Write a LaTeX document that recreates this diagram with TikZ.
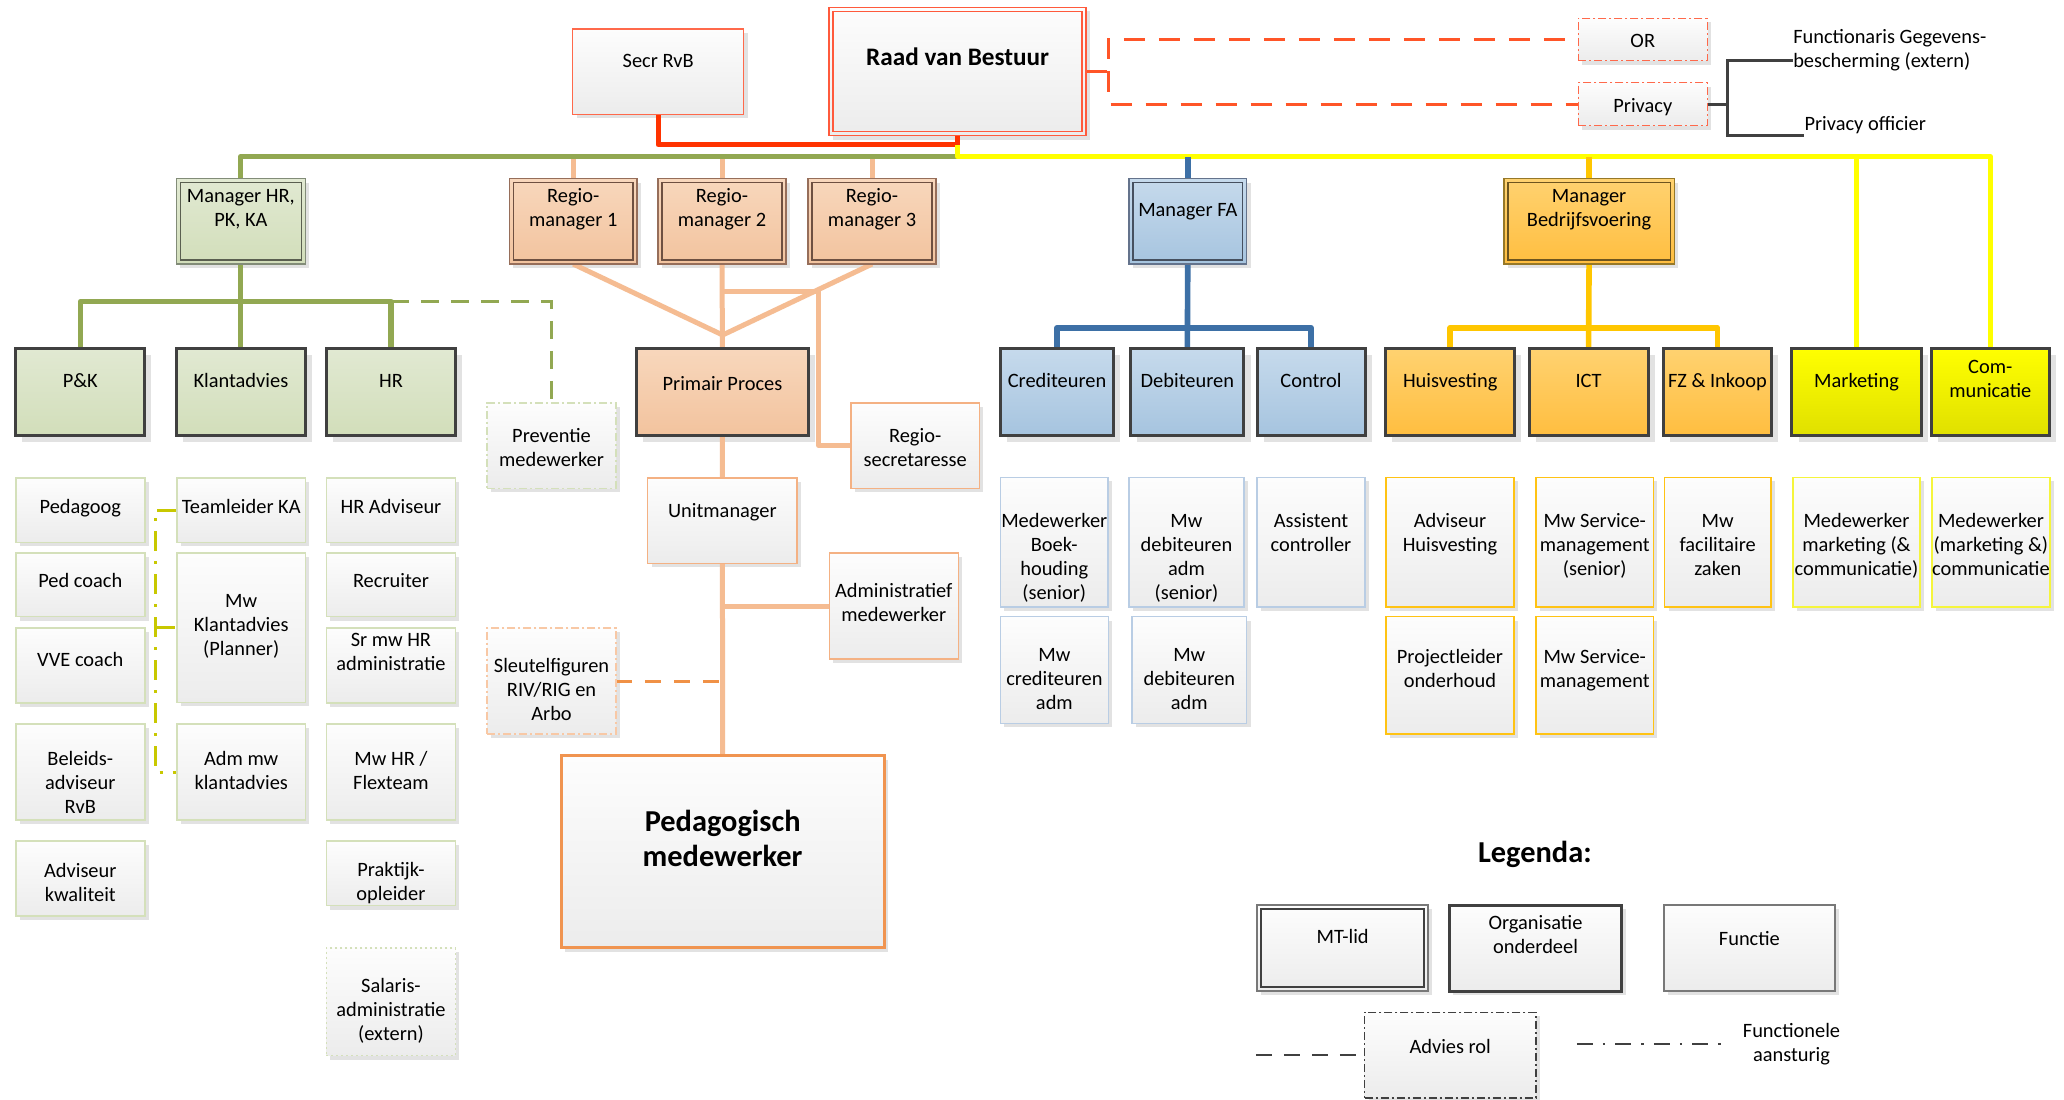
\documentclass[tikz,border=0pt]{standalone}
\usepackage{fontspec}
\setmainfont{Carlito}
\usetikzlibrary{calc}
\pgfdeclarelayer{shadow}
\pgfdeclarelayer{bg}
\pgfsetlayers{shadow,bg,main}

\definecolor{fnT}{RGB}{253,253,253}
\definecolor{fnB}{RGB}{236,236,236}
\definecolor{gT}{RGB}{225,233,210}
\definecolor{gB}{RGB}{210,222,186}
\definecolor{pT}{RGB}{248,215,188}
\definecolor{pB}{RGB}{242,195,158}
\definecolor{bT}{RGB}{198,218,236}
\definecolor{bB}{RGB}{166,196,223}
\definecolor{oT}{RGB}{255,210,112}
\definecolor{oB}{RGB}{255,190,64}
\definecolor{yT}{RGB}{255,255,0}
\definecolor{yB}{RGB}{224,224,0}
\definecolor{ouD}{RGB}{64,64,64}
\definecolor{shc}{RGB}{226,226,226}
\definecolor{fgB}{RGB}{212,224,186}
\definecolor{fbB}{RGB}{185,205,228}
\definecolor{foB}{RGB}{255,195,20}
\definecolor{fyB}{RGB}{245,245,60}
\definecolor{fpB}{RGB}{244,177,131}
\definecolor{frB}{RGB}{255,105,75}
\definecolor{fkB}{RGB}{120,120,120}
\definecolor{mgO}{RGB}{130,140,120}
\definecolor{mgI}{RGB}{90,95,80}
\definecolor{mpO}{RGB}{150,110,90}
\definecolor{mpI}{RGB}{110,80,65}
\definecolor{mbO}{RGB}{100,115,140}
\definecolor{mbI}{RGB}{70,80,95}
\definecolor{moO}{RGB}{150,120,40}
\definecolor{moI}{RGB}{110,85,30}
\definecolor{mrO}{RGB}{255,90,60}
\definecolor{pedB}{RGB}{240,148,80}
\definecolor{slB}{RGB}{248,200,165}
\definecolor{lnG}{RGB}{146,168,82}
\definecolor{lnP}{RGB}{245,188,146}
\definecolor{lnR}{RGB}{255,51,0}
\definecolor{lnY}{RGB}{255,255,0}
\definecolor{lnB}{RGB}{61,112,166}
\definecolor{lnO}{RGB}{255,198,0}
\definecolor{lnK}{RGB}{64,64,64}
\definecolor{lnRD}{RGB}{255,85,40}
\definecolor{lnOD}{RGB}{240,145,70}
\definecolor{lnF}{RGB}{200,200,0}

\newcommand\fsz{\fontsize{10.2}{12}\selectfont}
\newcommand\bfr{\fontsize{12.6}{15}\selectfont\bfseries}
\newcommand\bfz{\fontsize{15.2}{17.8}\selectfont\bfseries}
\newcommand\shd{3}
\newcommand\bx[8]{%
  \begin{pgfonlayer}{shadow}
  \fill[shc] ({#3+\shd},{#4+\shd}) rectangle ({#5+\shd},{#6+\shd});
  \end{pgfonlayer}
  \node[#1, minimum width={(#5-#3)*0.65815pt}, minimum height={(#6-#4)*0.65815pt}] (#2) at ({(#3+#5)/2},{(#4+#6)/2}) {};
  \node[txt] (#2t) at ({(#3+#5)/2},{#8+1.8}) {#7};
}
\newcommand\mbx[9]{%
  \bx{#1}{#3}{#4}{#5}{#6}{#7}{#8}{#9}
  \draw[#2] ({#4+3},{#5+3}) rectangle ({#6-3},{#7-3});
}

\tikzset{
  txt/.style={inner sep=0pt, align=center, font=\fsz, execute at begin node=\strut, execute at end node=\strut},
  txtl/.style={txt, align=left},
  fn/.style={rectangle, inner sep=0pt, outer sep=0pt, draw=#1, line width=0.75pt, top color=fnT, bottom color=fnB},
  adv/.style={fn=#1, dash pattern=on 4pt off 1.5pt on 1pt off 1.5pt},
  salbox/.style={fn=fgB, dash pattern=on 1pt off 1.5pt},
  pedbox/.style={fn=pedB, line width=1.5pt},
  ou/.style 2 args={rectangle, inner sep=0pt, outer sep=0pt, draw=ouD, line width=1.5pt, top color=#1, bottom color=#2},
  mt/.style n args={3}{rectangle, inner sep=0pt, outer sep=0pt, draw=#1, line width=0.8pt, top color=#2, bottom color=#3},
  inr/.style={draw=#1, line width=0.8pt},
  grn/.style={draw=lnG, line width=2.6pt, line join=round},
  pch/.style={draw=lnP, line width=2.5pt, line join=round},
  redl/.style={draw=lnR, line width=2.5pt, line join=round},
  ylw/.style={draw=lnY, line width=2.6pt, line join=round},
  blu/.style={draw=lnB, line width=2.8pt, line join=round},
  orl/.style={draw=lnO, line width=2.8pt, line join=round},
  gry/.style={draw=lnK, line width=1.6pt},
  gdash/.style={draw=lnG, line width=1.6pt, dash pattern=on 9pt off 6pt},
  rdash/.style={draw=lnRD, line width=1.5pt, dash pattern=on 10.5pt off 7pt},
  odash/.style={draw=lnOD, line width=1.5pt, dash pattern=on 8pt off 6.5pt},
  funcl/.style={draw=lnF, line width=1.5pt, dash pattern=on 10pt off 5pt on 1.5pt off 5pt},
  legdash/.style={draw=lnK, line width=1.3pt, dash pattern=on 8pt off 6pt},
  legfunc/.style={draw=lnK, line width=1.3pt, dash pattern=on 8pt off 5pt on 1.2pt off 5pt},
}

\begin{document}
\begin{tikzpicture}[x=0.65815pt,y=-0.65815pt]
\useasboundingbox (0,0) rectangle (1568,835);
\begin{pgfonlayer}{shadow}
\fill[white] (0,0) rectangle (1568,835);
\end{pgfonlayer}

% ---------- top ----------
\renewcommand\shd{3}
\bx{fn=frB}{secr}{435}{22}{565}{87}{Secr RvB}{45.5}
\mbx{mt={mrO}{fnT}{fnB}}{inr=mrO}{rvb}{630}{5.6}{825}{103}{}{43}
\node[font=\bfr, inner sep=0pt] (rvbl) at (727.5,43) {Raad van Bestuur};
\bx{adv=frB}{or}{1199}{14}{1297}{46}{OR}{31}
\bx{adv=frB}{priv}{1199}{62.8}{1297}{95.5}{Privacy}{80}
\node[txtl, anchor=west] (fgt) at (1362,39.5) {Functionaris Gegevens-\\bescherming (extern)};
\node[txtl, anchor=west] (pot) at (1370.6,95.5) {Privacy officier};

% ---------- managers ----------
\mbx{mt={mgO}{gT}{gB}}{inr=mgI}{mhr}{134}{135.7}{232}{200.6}{Manager HR,\\PK, KA}{158.6}
\mbx{mt={mpO}{pT}{pB}}{inr=mpI}{r1}{387}{135.7}{484}{200.6}{Regio-\\manager 1}{158.6}
\mbx{mt={mpO}{pT}{pB}}{inr=mpI}{r2}{500}{135.7}{597}{200.6}{Regio-\\manager 2}{158.6}
\mbx{mt={mpO}{pT}{pB}}{inr=mpI}{r3}{614}{135.7}{711}{200.6}{Regio-\\manager 3}{158.6}
\mbx{mt={mbO}{bT}{bB}}{inr=mbI}{mfa}{857.7}{135.7}{947}{200.6}{Manager FA}{158.8}
\mbx{mt={moO}{oT}{oB}}{inr=moI}{mbv}{1142.4}{135.7}{1272}{200.6}{Manager\\Bedrijfsvoering}{159}

% ---------- organisation units ----------
\renewcommand\shd{5}
\bx{ou={gT}{gB}}{pk}{12}{265}{110}{330.5}{P\&K}{288.7}
\bx{ou={gT}{gB}}{ka}{134}{265}{232}{330.5}{Klantadvies}{288.7}
\bx{ou={gT}{gB}}{hr}{248}{265}{346}{330.5}{HR}{288.7}
\bx{ou={pT}{pB}}{pp}{483.7}{265}{614}{330.5}{Primair Proces}{291}
\bx{ou={bT}{bB}}{cred}{760}{265}{846}{330.5}{Crediteuren}{288.7}
\bx{ou={bT}{bB}}{deb}{859}{265}{945}{330.5}{Debiteuren}{288.7}
\bx{ou={bT}{bB}}{ctrl}{955}{265}{1037}{330.5}{Control}{288.7}
\bx{ou={oT}{oB}}{huis}{1052.6}{265}{1150.8}{330.5}{Huisvesting}{288.7}
\bx{ou={oT}{oB}}{ict}{1161.6}{265}{1252}{330.5}{ICT}{288.7}
\bx{ou={oT}{oB}}{fz}{1263.7}{265}{1345.8}{330.5}{FZ \& Inkoop}{288.7}
\bx{ou={yT}{yB}}{mark}{1361.3}{265}{1459.5}{330.5}{Marketing}{288.7}
\bx{ou={yT}{yB}}{comm}{1467}{265}{1557}{330.5}{Com-\\municatie}{288.5}

% ---------- functions ----------
\renewcommand\shd{3}
\bx{fn=fgB}{pedag}{12}{363}{110}{412}{Pedagoog}{384.5}
\bx{fn=fgB}{pedc}{12}{420}{110}{468.5}{Ped coach}{441}
\bx{fn=fgB}{vve}{12}{477}{110}{534}{VVE coach}{500.7}
\bx{fn=fgB}{bel}{12}{550}{110}{623}{Beleids-\\adviseur\\RvB}{595.5}
\bx{fn=fgB}{advk}{12}{639}{110}{696}{Adviseur\\kwaliteit}{671.6}
\bx{fn=fgB}{tl}{134.5}{363}{232}{412}{Teamleider KA}{384.5}
\bx{fn=fgB}{mwk}{134.5}{420}{232}{533.5}{Mw\\Klantadvies\\(Planner)}{475.6}
\bx{fn=fgB}{admk}{134.5}{550}{232}{623}{Adm mw\\klantadvies}{586}
\bx{fn=fgB}{hra}{248}{363}{346}{412}{HR Adviseur}{384.5}
\bx{fn=fgB}{rec}{248}{420}{346}{468.5}{Recruiter}{441}
\bx{fn=fgB}{srhr}{248}{477}{346}{534}{Sr mw HR\\administratie}{495.8}
\bx{fn=fgB}{mwhr}{248}{550}{346}{623}{Mw HR /\\Flexteam}{586}
\bx{fn=fgB}{prak}{248}{639}{346}{688}{Praktijk-\\opleider}{670.3}
\bx{salbox}{sal}{248}{720}{346}{802}{Salaris-\\administratie\\(extern)}{767.9}

\bx{adv=fgB}{prev}{370}{306}{468}{371}{Preventie\\medewerker}{341}
\bx{fn=fpB}{rs}{646.5}{306}{744}{371}{Regio-\\secretaresse}{341}
\bx{fn=fpB}{um}{492}{363}{605.6}{428}{Unitmanager}{388}
\bx{fn=fpB}{adm}{630}{420}{728}{500.8}{Administratief\\medewerker}{458.8}
\bx{adv=slB}{sleu}{370}{477}{468}{557.7}{Sleutelfiguren\\RIV/RIG en\\Arbo}{524.7}
\bx{pedbox}{ped}{426.5}{574}{671.6}{720}{}{637}
\node[font=\bfz, align=center, inner sep=0pt] (pedl) at (549,637) {Pedagogisch\\medewerker};

\bx{fn=fbB}{mbk}{760}{362.6}{841.8}{461}{Medewerker\\Boek-\\houding\\(senior)}{424}
\bx{fn=fbB}{mdbs}{857.7}{362.6}{945}{461}{Mw\\debiteuren\\adm\\(senior)}{424}
\bx{fn=fbB}{asc}{955}{362.6}{1036.8}{461}{Assistent\\controller}{405.5}
\bx{fn=fbB}{mcr}{760}{468.5}{842}{549.5}{Mw\\crediteuren\\adm}{516.6}
\bx{fn=fbB}{mdb}{860}{468.5}{947}{549.5}{Mw\\debiteuren\\adm}{516.6}
\bx{fn=foB}{adh}{1053}{362.6}{1150}{461}{Adviseur\\Huisvesting}{405.5}
\bx{fn=foB}{mss}{1167}{362.6}{1256}{461}{Mw Service-\\management\\(senior)}{414.7}
\bx{fn=foB}{mfz}{1264.6}{362.6}{1345.3}{461}{Mw\\facilitaire\\zaken}{414.7}
\bx{fn=foB}{plo}{1053}{468.5}{1150}{557.7}{Projectleider\\onderhoud}{509}
\bx{fn=foB}{msm}{1167}{468.5}{1256}{557.7}{Mw Service-\\management}{509}
\bx{fn=fyB}{mm1}{1362}{362.6}{1458.7}{461}{Medewerker\\marketing (\&\\communicatie)}{414.7}
\bx{fn=fyB}{mm2}{1467.6}{362.6}{1557.4}{461}{Medewerker\\(marketing \&)\\communicatie}{414.7}

% ---------- legend ----------
\node[font=\bfz, inner sep=0pt] (leg) at (1166,649) {Legenda:};
\mbx{mt={fkB}{fnT}{fnB}}{inr=ouD}{lmt}{955}{687.6}{1085}{753}{MT-lid}{711.6}
\bx{ou={fnT}{fnB}}{lou}{1101}{687.6}{1232}{753}{Organisatie\\onderdeel}{711}
\bx{fn=fkB}{lfn}{1264}{687.6}{1394}{753}{Functie}{713}
\bx{adv=ouD}{ladv}{1036.7}{769}{1166.7}{834}{Advies rol}{794.7}
\node[txt] (lft) at (1361,795) {Functionele\\aansturig};
\coordinate (lda) at (954,801.5);
\coordinate (lfa) at (1198,793);
\coordinate (lfb) at (1311,793);

% ---------- connectors ----------
\coordinate (bus) at (0,119);
\coordinate (redy) at (0,110);
\coordinate (gj) at (0,229);
\coordinate (bj) at (0,249);
\coordinate (pj) at (549,254.5);
\coordinate (rj) at (549,221.5);
\coordinate (rk) at (622,221.5);
\coordinate (rdx) at (842,0);
\coordinate (pvx) at (1312.5,0);
\coordinate (fgc) at (1362,46);
\coordinate (poc) at (1370.6,103);
\coordinate (fx) at (118,0);

\begin{pgfonlayer}{bg}
% peach
\draw[pch] (r1.north |- bus) -- (r1.north);
\draw[pch] (r2.north |- bus) -- (r2.north);
\draw[pch] (r3.north |- bus) -- (r3.north);
\draw[pch] (r1.south) -- (pj);
\draw[pch] (r3.south) -- (pj);
\draw[pch] (r2.south) -- (pp.north);
\draw[pch] (rj) -- (rk) |- (rs.west);
\draw[pch] (pp.south) -- (um.north);
\draw[pch] (um.south) -- (ped.north);
\draw[pch] (adm.west -| um.south) -- (adm.west);
\draw[odash] (sleu.east) -- (sleu.east -| um.south);
% green
\draw[grn] (mhr.north) -- (mhr.north |- bus) -- (rvb.south |- bus);
\draw[grn] (mhr.south) -- (ka.north);
\draw[grn] (pk.north) -- (pk.north |- gj) -- (hr.north |- gj) -- (hr.north);
\draw[gdash] (hr.north |- gj) -| (prev.north);
% red
\draw[redl] (secr.south) -- (secr.south |- redy) -- (rvb.south |- redy) -- (rvb.south);
\draw[rdash] (rvb.east) -- (rvb.east -| rdx) |- (or.west);
\draw[rdash] (rvb.east -| rdx) |- (priv.west);
% yellow
\draw[ylw] (rvb.south |- redy) -- (rvb.south |- bus) -- (comm.north |- bus) -- (comm.north);
\draw[ylw] (mark.north |- bus) -- (mark.north);
% blue
\draw[blu] (mfa.north |- bus) -- (mfa.north);
\draw[blu] (mfa.south) -- (deb.north);
\draw[blu] (cred.north) -- (cred.north |- bj) -- (ctrl.north |- bj) -- (ctrl.north);
% orange
\draw[orl] (mbv.north |- bus) -- (mbv.north);
\draw[orl] (mbv.south) -- (ict.north);
\draw[orl] (huis.north) -- (huis.north |- bj) -- (fz.north |- bj) -- (fz.north);
% privacy
\draw[gry] (priv.east) -- (priv.east -| pvx);
\draw[gry] (fgc) -- (fgc -| pvx) -- (poc -| pvx) -- (poc);
% functional
\draw[funcl] (tl.west) -- (tl.west -| fx) -- (admk.west -| fx) -- (admk.west);
\draw[funcl] (mwk.west -| fx) -- (mwk.west);
% legend lines
\draw[legdash] (lda) -- (ladv.west);
\draw[legfunc] (lfa) -- (lfb);
\end{pgfonlayer}
\end{tikzpicture}
\end{document}
